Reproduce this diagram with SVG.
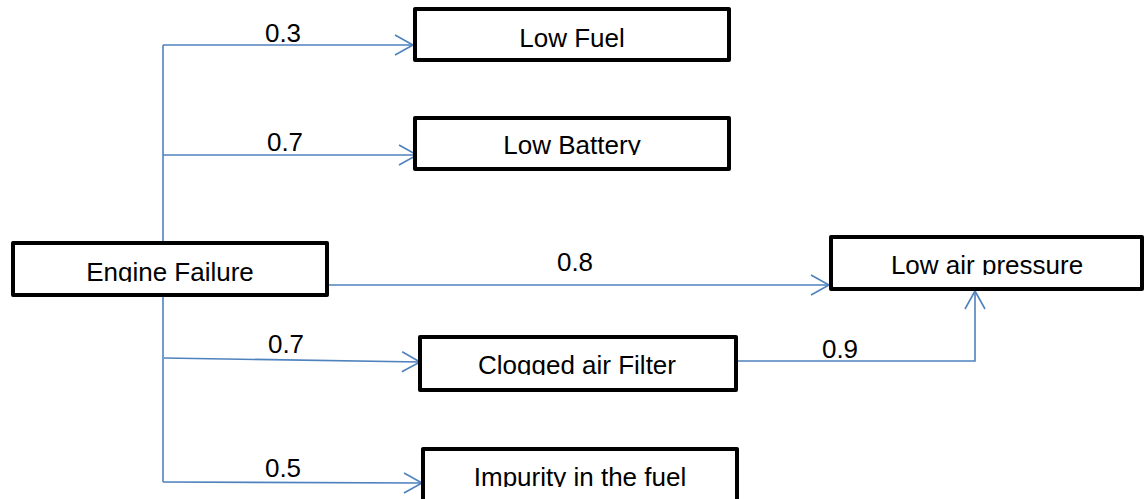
<svg xmlns="http://www.w3.org/2000/svg" width="1145" height="499" viewBox="0 0 1145 499">
<style>
.box{fill:#fff;stroke:#000;stroke-width:4;stroke-linejoin:round}
.conn{fill:none;stroke:#4F81BD;stroke-width:1.6}
.t{font-family:"Liberation Sans",Arial,sans-serif;font-size:26px;fill:#000;text-anchor:middle}
</style>
<defs>
<marker id="arr" markerUnits="userSpaceOnUse" markerWidth="22" markerHeight="24" refX="19" refY="11" orient="auto" overflow="visible">
<path d="M1,1 L19,11 L1,21" fill="none" stroke="#4F81BD" stroke-width="1.6"/>
</marker>
<clipPath id="c1"><rect x="415" y="9" width="314" height="39"/></clipPath>
<clipPath id="c2"><rect x="415" y="118" width="314" height="37"/></clipPath>
<clipPath id="c3"><rect x="13" y="243" width="314" height="39"/></clipPath>
<clipPath id="c4"><rect x="831" y="237" width="311" height="38"/></clipPath>
<clipPath id="c5"><rect x="420" y="337" width="316" height="38"/></clipPath>
<clipPath id="c6"><rect x="423" y="449" width="314" height="38"/></clipPath>
</defs>
<g id="connectors">
<path class="conn" d="M163,45 L163,482"/>
<path class="conn" d="M163,45 L413,45" marker-end="url(#arr)"/>
<path class="conn" d="M163,155 L417,155" marker-end="url(#arr)"/>
<path class="conn" d="M329,285 L829,285" marker-end="url(#arr)"/>
<path class="conn" d="M164,358 L420,362" marker-end="url(#arr)"/>
<path class="conn" d="M163,482 L422,483" marker-end="url(#arr)"/>
<path class="conn" d="M738,361 L975,361 L975,291" marker-end="url(#arr)"/>
<text class="t" x="283" y="42">0.3</text>
<text class="t" x="285" y="151">0.7</text>
<text class="t" x="575" y="271">0.8</text>
<text class="t" x="286" y="353">0.7</text>
<text class="t" x="283" y="477">0.5</text>
<text class="t" x="840" y="358">0.9</text>
</g>
<g id="low-fuel"><rect class="box" x="415" y="9" width="314" height="51"/><text class="t" x="572" y="47" clip-path="url(#c1)">Low Fuel</text></g>
<g id="low-battery"><rect class="box" x="415" y="118" width="314" height="51"/><text class="t" x="572" y="154" clip-path="url(#c2)">Low Battery</text></g>
<g id="engine-failure"><rect class="box" x="13" y="243" width="314" height="52"/><text class="t" x="170" y="281" clip-path="url(#c3)">Engine Failure</text></g>
<g id="low-air-pressure"><rect class="box" x="831" y="237" width="311" height="52"/><text class="t" x="987" y="274" clip-path="url(#c4)">Low air pressure</text></g>
<g id="clogged-air-filter"><rect class="box" x="420" y="337" width="316" height="53"/><text class="t" x="577" y="374" clip-path="url(#c5)">Clogged air Filter</text></g>
<g id="impurity"><rect class="box" x="423" y="449" width="314" height="62"/><text class="t" x="580" y="486" clip-path="url(#c6)">Impurity in the fuel</text></g>
</svg>
